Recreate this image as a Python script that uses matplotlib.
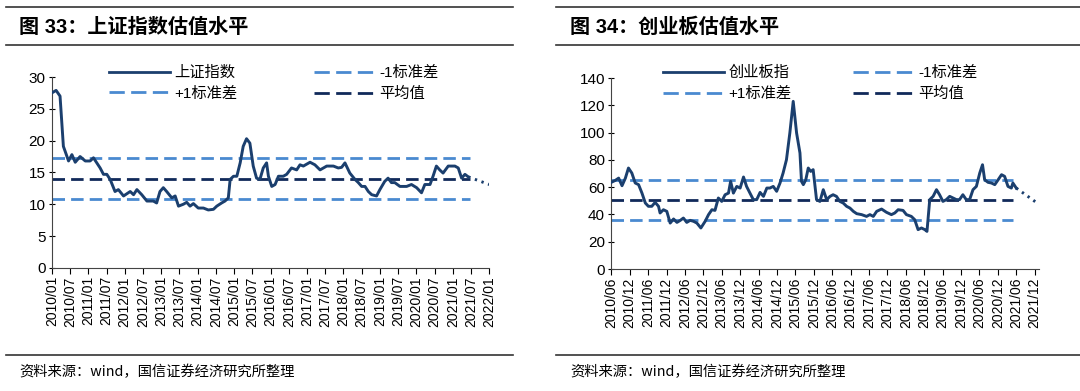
import matplotlib
matplotlib.use("Agg")
import matplotlib.pyplot as plt
from matplotlib.lines import Line2D

plt.rcParams['font.family'] = ['Liberation Sans', 'Noto Sans CJK SC']

# ---- data: months since first tick, values ----
sh_month = [0, 1.4, 2.7, 3.8, 4.4, 5.5, 6.6, 7.7, 9.3, 11.0, 12.6, 13.7, 15.9, 17.0, 18.1,
            19.2, 20.8, 21.9, 23.6, 25.8, 26.9, 28.0, 29.6, 31.3, 33.4, 34.5, 35.6, 36.7,
            37.8, 39.5, 40.6, 41.7, 43.3, 44.4, 45.5, 46.6, 48.2, 49.9, 51.5, 53.2, 54.3,
            55.9, 57.0, 58.1, 58.7, 59.8, 60.9, 62.0, 63.0, 64.1, 65.2, 66.3, 67.4, 68.5,
            69.6, 70.7, 71.3, 72.4, 73.5, 74.6, 76.2, 77.3, 78.9, 80.6, 81.7, 82.8, 85.0,
            86.6, 88.3, 90.5, 92.7, 94.3, 95.4, 96.5, 98.1, 99.8, 100.9, 102.0, 103.1,
            104.2, 105.3, 106.9, 108.0, 109.6, 110.7, 111.8, 112.9, 114.6, 116.8, 118.4,
            120.1, 121.7, 122.8, 124.5, 125.5, 126.6, 127.7, 128.8, 130.5, 132.7, 133.8,
            134.9, 136.0, 137.1]
sh_pe = [27.5, 27.9, 27.0, 19.1, 18.3, 16.8, 17.8, 16.6, 17.5, 16.8, 16.8, 17.3, 15.7, 14.7,
         14.7, 13.9, 12.0, 12.3, 11.3, 12.0, 11.5, 12.3, 11.5, 10.5, 10.5, 10.2, 12.0, 12.6,
         12.0, 11.0, 11.3, 9.7, 10.0, 10.3, 9.7, 10.1, 9.4, 9.4, 9.1, 9.2, 9.7, 10.2, 10.5,
         11.0, 13.9, 14.4, 14.4, 16.5, 19.1, 20.3, 19.6, 16.0, 14.1, 13.9, 15.7, 16.5, 14.4,
         12.8, 13.1, 14.4, 14.4, 14.7, 15.7, 15.4, 16.2, 16.0, 16.6, 16.2, 15.4, 16.0, 16.0,
         15.7, 15.8, 16.5, 14.9, 13.9, 13.4, 12.8, 12.8, 12.0, 11.5, 11.3, 12.3, 13.6, 14.1,
         13.4, 13.4, 12.8, 12.8, 13.1, 12.6, 11.8, 13.1, 13.1, 14.4, 16.0, 15.4, 14.9, 16.0,
         16.0, 15.7, 14.1, 14.7, 14.3]
sh_trend_month = [137.1, 144]
sh_trend = [14.3, 13.1]
sh_mean, sh_up, sh_dn = 14.0, 17.2, 10.8
sh_band_end = 137.6
sh_ticks = ['2010/01', '2010/07', '2011/01', '2011/07', '2012/01', '2012/07', '2013/01',
            '2013/07', '2014/01', '2014/07', '2015/01', '2015/07', '2016/01', '2016/07',
            '2017/01', '2017/07', '2018/01', '2018/07', '2019/01', '2019/07', '2020/01',
            '2020/07', '2021/01', '2021/07', '2022/01']

cy_month = [0, 1.3, 2.4, 3.5, 4.6, 5.6, 6.7, 7.8, 8.9, 10.0, 11.1, 12.1, 13.2, 14.3, 15.4,
            15.9, 17.0, 18.1, 19.2, 20.3, 21.4, 22.5, 23.5, 24.6, 25.7, 26.8, 27.9, 29.2,
            30.6, 31.7, 32.8, 33.8, 34.9, 36.0, 37.1, 38.2, 38.9, 39.8, 40.9, 42.0, 43.1,
            44.1, 45.2, 46.3, 47.4, 48.5, 49.6, 50.7, 51.7, 52.8, 53.9, 55.0, 56.0, 57.1,
            58.2, 59.3, 60.4, 61.5, 62.0, 62.6, 63.4, 64.2, 65.0, 65.8, 66.9, 68.0, 69.1,
            70.2, 71.3, 72.3, 73.4, 74.5, 75.6, 76.7, 77.8, 78.9, 80.0, 81.6, 83.2, 84.3,
            85.4, 86.5, 88.1, 89.7, 91.3, 92.4, 93.5, 95.1, 96.2, 97.8, 98.9, 100.0, 101.1,
            102.2, 102.9, 103.8, 104.9, 106.0, 107.0, 108.1, 109.2, 110.3, 111.4, 112.5,
            113.5, 114.6, 115.7, 116.8, 117.9, 119.0, 120.1, 121.0, 121.7, 122.8, 123.9,
            125.0, 126.1, 127.2, 128.2, 129.3, 130.4, 130.9, 132.0]
cy_pe = [63.6, 65.0, 66.7, 61.1, 66.7, 74.1, 70.4, 63.1, 61.9, 55.7, 48.4, 46.0, 46.0, 48.9,
         46.0, 41.1, 43.5, 42.3, 33.7, 36.7, 34.2, 35.7, 37.4, 34.2, 35.7, 35.0, 33.7, 30.1,
         35.0, 39.9, 43.5, 43.0, 52.1, 49.6, 54.5, 55.7, 64.3, 55.7, 60.6, 59.4, 67.5, 60.6,
         55.7, 50.9, 50.9, 56.2, 53.3, 59.4, 59.4, 60.6, 57.0, 63.1, 70.4, 80.2, 99.8, 123.0,
         99.8, 85.1, 64.3, 61.9, 65.5, 74.1, 71.6, 72.9, 50.9, 49.6, 58.2, 50.9, 53.3, 54.5,
         53.3, 49.6, 48.4, 46.0, 44.7, 42.3, 40.6, 39.9, 38.6, 39.9, 38.6, 42.3, 44.0, 41.6,
         39.9, 41.1, 43.5, 43.0, 39.9, 38.6, 36.2, 28.9, 30.1, 28.9, 27.6, 50.9, 53.3, 58.2,
         54.5, 49.6, 50.9, 53.3, 52.1, 50.9, 50.9, 54.5, 50.9, 50.9, 58.2, 60.6, 70.4, 76.5,
         65.5, 63.6, 63.1, 61.9, 65.5, 69.2, 68.0, 60.6, 59.4, 63.1, 59.4]
cy_trend_month = [132.0, 138.5]
cy_trend = [59.4, 48.9]
cy_mean, cy_up, cy_dn = 50.9, 65.5, 35.9
cy_band_end = 131.0
cy_ticks = ['2010/06', '2010/12', '2011/06', '2011/12', '2012/06', '2012/12', '2013/06',
            '2013/12', '2014/06', '2014/12', '2015/06', '2015/12', '2016/06', '2016/12',
            '2017/06', '2017/12', '2018/06', '2018/12', '2019/06', '2019/12', '2020/06',
            '2020/12', '2021/06', '2021/12']

LINE = '#1B3F6E'
LIGHT = '#4A8AD0'
DARK = '#10295A'
DASH = (0, (4.5, 2.2))
LEG_DASH = (0, (5.5, 2.3))


def draw_panel(fig, rect, months, vals, tr_m, tr_v, mean, up, dn, band_end,
               ticks, xmax, ymax, ystep, name, leg_x, leg_y, colsp):
    ax = fig.add_axes(rect)
    ax.plot(months, vals, color=LINE, lw=2.1, zorder=4)
    ax.plot(tr_m, tr_v, color=LINE, lw=2.1, ls=(0, (0.8, 1.6)), zorder=4)
    ax.plot([0, band_end], [up, up], color=LIGHT, lw=2.0, ls=DASH)
    ax.plot([0, band_end], [dn, dn], color=LIGHT, lw=2.0, ls=DASH)
    ax.plot([0, band_end], [mean, mean], color=DARK, lw=2.0, ls=DASH)
    ax.set_xlim(0, xmax)
    ax.set_ylim(0, ymax)
    ax.set_yticks(range(0, ymax + 1, ystep))
    ax.set_xticks([6 * i for i in range(len(ticks))])
    ax.set_xticklabels(ticks, rotation=90, fontsize=10)
    ax.tick_params(axis='y', labelsize=11, direction='inout', length=5, pad=2)
    ax.tick_params(axis='x', direction='out', length=4, pad=2)
    for s in ['top', 'right']:
        ax.spines[s].set_visible(False)
    ax.spines['left'].set_color('#444444')
    ax.spines['bottom'].set_color('#444444')
    handles = [Line2D([], [], color=LINE, lw=2.0),
               Line2D([], [], color=LIGHT, lw=2.0, ls=LEG_DASH),
               Line2D([], [], color=LIGHT, lw=2.0, ls=LEG_DASH),
               Line2D([], [], color=DARK, lw=2.0, ls=LEG_DASH)]
    labels = [name, '+1标准差', '-1标准差', '平均值']
    ax.legend(handles, labels, ncol=2, loc='upper left', bbox_to_anchor=(leg_x, leg_y),
              frameon=False, fontsize=11, handlelength=4.0, columnspacing=colsp,
              labelspacing=0.45, handletextpad=0.3, borderpad=0, borderaxespad=0)
    return ax


fig = plt.figure(figsize=(10.8, 3.91), dpi=100)

draw_panel(fig, [0.048, 0.315, 0.405, 0.488], sh_month, sh_pe, sh_trend_month, sh_trend,
           sh_mean, sh_up, sh_dn, sh_band_end, sh_ticks, 144, 30, 5, '上证指数',
           0.130, 1.060, 5.0)
draw_panel(fig, [0.566, 0.312, 0.396, 0.488], cy_month, cy_pe, cy_trend_month, cy_trend,
           cy_mean, cy_up, cy_dn, cy_band_end, cy_ticks, 139.4, 140, 20, '创业板指',
           0.121, 1.065, 4.0)

# header / footer rules and text
for x0, x1, title, tx in [(0.006, 0.475, '图 33：上证指数估值水平', 0.018),
                          (0.515, 1.0, '图 34：创业板估值水平', 0.528)]:
    for yy in [1 - 7 / 391, 1 - 45 / 391, 1 - 355 / 391]:
        fig.add_artist(Line2D([x0, x1], [yy, yy], color='#333333', lw=1.2))
    fig.text(tx, 1 - 27 / 391, title, fontsize=14.5, fontweight='bold',
             family=['Liberation Sans', 'Noto Sans CJK SC'], va='center', ha='left')
    fig.text(tx, 1 - 372 / 391, '资料来源：wind，国信证券经济研究所整理', fontsize=10.3,
             family=['Noto Sans CJK SC'], va='center', ha='left')

fig.savefig('out.png', dpi=100)
